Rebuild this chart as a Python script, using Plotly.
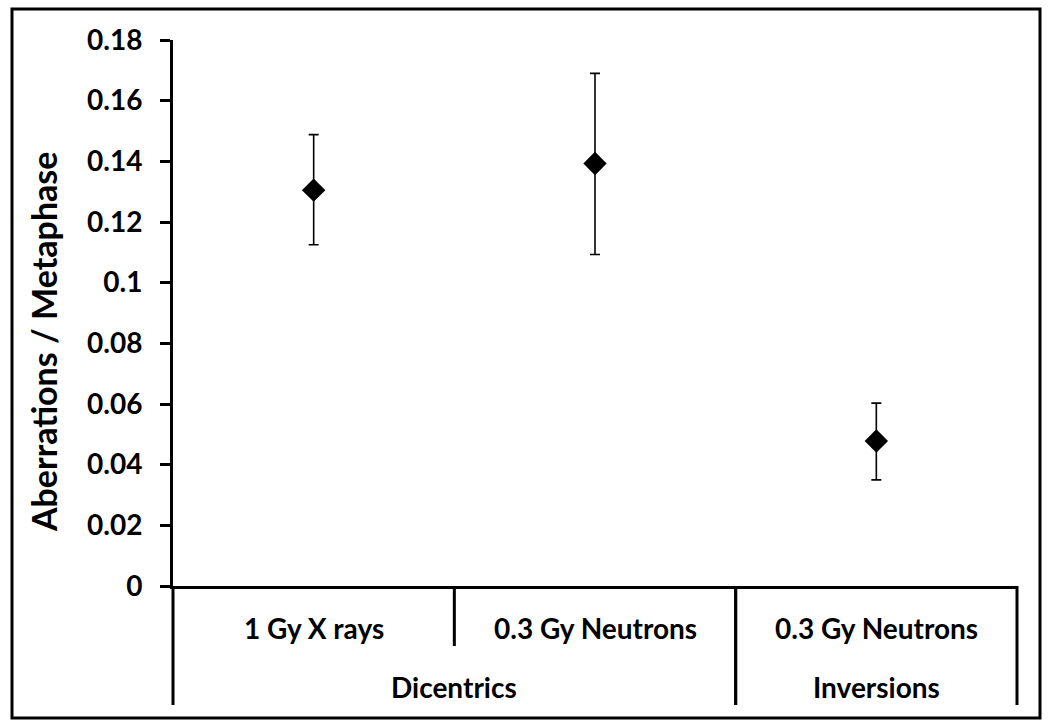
import plotly.graph_objects as go

# ---- data ----
inner_labels = ["1 Gy X rays", "0.3 Gy Neutrons", "0.3 Gy Neutrons"]
outer_labels = ["Dicentrics", "Dicentrics", "Inversions"]
values = [0.1305, 0.1393, 0.0478]
err_plus = [0.0183, 0.0297, 0.0125]
err_minus = [0.0180, 0.0300, 0.0128]
y_ticks = [0, 0.02, 0.04, 0.06, 0.08, 0.1, 0.12, 0.14, 0.16, 0.18]
y_tick_labels = ["0", "0.02", "0.04", "0.06", "0.08", "0.1", "0.12", "0.14", "0.16", "0.18"]
y_title = "Aberrations / Metaphase"

W, H = 1050, 727
ML, MR, MT, MB = 173, 33, 40, 141
plot_h = H - MT - MB
plot_w = W - ML - MR
FONT = "Lato"
n = len(values)

xs = list(range(n))

fig = go.Figure()
fig.add_trace(go.Scatter(
    x=xs, y=values, mode="markers",
    marker=dict(symbol="diamond", size=18, color="black"),
    error_y=dict(type="data", array=err_plus, arrayminus=err_minus,
                 color="black", thickness=1.6, width=5),
    showlegend=False, hoverinfo="y",
))

shapes = []
annotations = []
line_style = dict(color="black", width=3)
lab_font = dict(family=FONT, size=28, color="black", weight="bold")


def px(edge):
    # category-boundary position -> paper fraction
    return (edge + 0.5) / n


for i, lab in enumerate(inner_labels):
    annotations.append(dict(x=i, y=0, xref="x", yref="paper", text=lab,
                            showarrow=False, yanchor="middle", yshift=-42,
                            font=lab_font))
inner_len = 60 / plot_h
outer_len = 119 / plot_h

groups = []
start = 0
for i in range(1, n + 1):
    if i == n or outer_labels[i] != outer_labels[start]:
        groups.append((start, i - 1, outer_labels[start]))
        start = i

for (a, b, lab) in groups:
    annotations.append(dict(x=(a + b) / 2, y=0, xref="x", yref="paper", text=lab,
                            showarrow=False, yanchor="middle", yshift=-101,
                            font=lab_font))
    for edge in (a - 0.5, b + 0.5):
        shapes.append(dict(type="line", xref="paper", yref="paper",
                           x0=px(edge), x1=px(edge),
                           y0=0, y1=-outer_len, line=line_style))
    for k in range(a, b):
        shapes.append(dict(type="line", xref="paper", yref="paper",
                           x0=px(k + 0.5), x1=px(k + 0.5),
                           y0=0, y1=-inner_len, line=line_style))

# y-axis title
annotations.append(dict(x=(43 - ML) / plot_w, y=1 - (342 - MT) / plot_h,
                        xref="paper", yref="paper",
                        text=y_title, textangle=-90, showarrow=False,
                        xanchor="center", yanchor="middle",
                        font=dict(family=FONT, size=34, color="black", weight="bold")))

# outer frame around the whole figure
fx0, fx1 = (12 - ML) / plot_w, (1040 - ML) / plot_w
fy1 = 1 + (MT - 9) / plot_h
fy0 = 1 - (718 - MT) / plot_h
shapes.append(dict(type="rect", xref="paper", yref="paper", x0=fx0, x1=fx1,
                   y0=fy0, y1=fy1, line=dict(color="black", width=3)))

fig.update_layout(
    width=W, height=H,
    margin=dict(l=ML, r=MR, t=MT, b=MB),
    paper_bgcolor="white", plot_bgcolor="white",
    shapes=shapes, annotations=annotations,
    xaxis=dict(range=[-0.5, n - 0.5], showticklabels=False, ticks="",
               showgrid=False, zeroline=False, showline=True, linecolor="black",
               linewidth=3),
    yaxis=dict(range=[0, 0.18], tickvals=y_ticks, ticktext=y_tick_labels,
               ticks="outside", ticklen=10, tickwidth=3, tickcolor="black",
               ticklabelstandoff=12,
               showline=True, linecolor="black", linewidth=3,
               showgrid=False, zeroline=False,
               tickfont=dict(family=FONT, size=28, color="black", weight="bold")),
)

fig.write_html("out.html", config={"displayModeBar": False},
               post_script="document.body.style.margin='0';")
